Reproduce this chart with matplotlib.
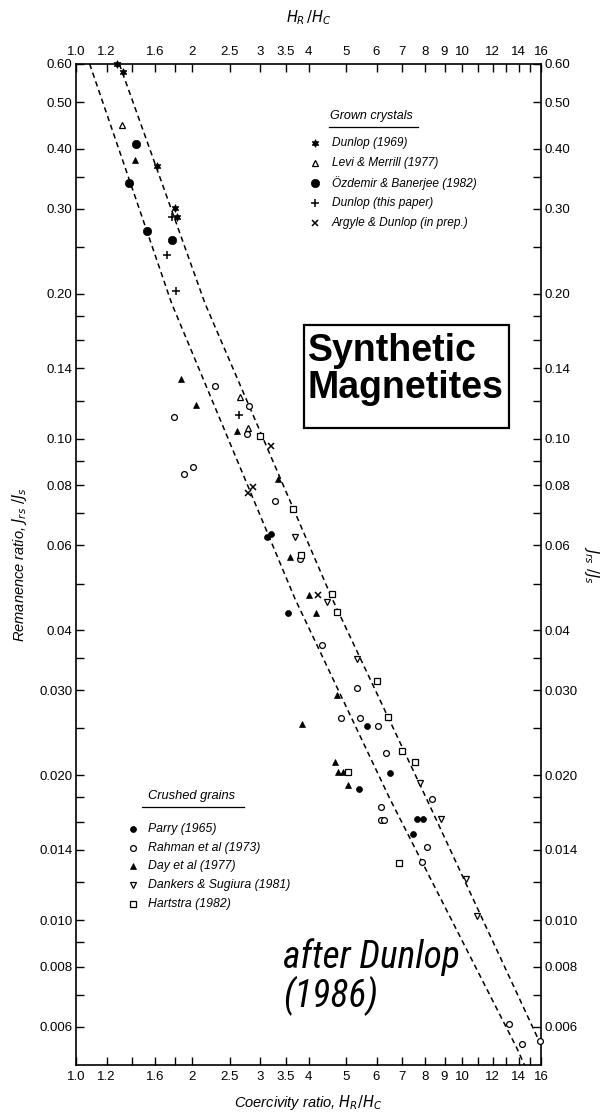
import matplotlib
matplotlib.use("Agg")
import matplotlib.pyplot as plt
from matplotlib import font_manager
from matplotlib.ticker import FixedLocator, FixedFormatter, NullLocator
from matplotlib.patches import Rectangle
from matplotlib.lines import Line2D

plt.rcParams["font.family"] = ["Liberation Sans", "DejaVu Sans"]
plt.rcParams["mathtext.fontset"] = "dejavusans"
plt.rcParams["mathtext.default"] = "it"

# ---------------- data ----------------
# Grown crystals
dunlop1969_x = [1.275, 1.32, 1.618, 1.804, 1.823]
dunlop1969_y = [0.600, 0.578, 0.368, 0.302, 0.288]
levi_x = [1.313, 2.66, 2.79]
levi_y = [0.448, 0.122, 0.1052]
ozdemir_x = [1.43, 1.374, 1.53, 1.77]
ozdemir_y = [0.409, 0.340, 0.270, 0.259]
dunlop_this_x = [1.77, 1.718, 1.812, 2.65]
dunlop_this_y = [0.288, 0.2405, 0.2027, 0.1122]
argyle_x = [3.19, 2.868, 2.785, 4.24]
argyle_y = [0.0964, 0.0793, 0.0771, 0.0474]

# Crushed grains
parry_x = [3.117, 3.19, 3.53, 5.68, 6.50, 5.40, 7.62, 7.90, 7.44]
parry_y = [0.0624, 0.0635, 0.0434, 0.02527, 0.02017, 0.01873, 0.0162, 0.0162, 0.0151]
rahman_x = [2.29, 1.794, 2.805, 2.78, 1.904, 2.005, 3.276, 3.80, 4.33, 5.33, 4.86,
            5.44, 6.04, 6.35, 8.34, 6.15, 6.15, 6.29, 8.09, 7.86, 13.24, 14.26, 15.9]
rahman_y = [0.1285, 0.1109, 0.1167, 0.1024, 0.0846, 0.0873, 0.0742, 0.0561, 0.0372,
            0.0304, 0.0263, 0.0263, 0.0253, 0.02224, 0.01785, 0.0172, 0.01614,
            0.01614, 0.01416, 0.01318, 0.00608, 0.00554, 0.0056]
day_x = [1.425, 1.867, 2.04, 2.617, 3.34, 3.58, 4.02, 4.18, 4.75, 3.855, 4.69,
         4.78, 4.91, 5.05]
day_y = [0.379, 0.1333, 0.1173, 0.1037, 0.0826, 0.0567, 0.0474, 0.0434, 0.0293,
         0.0255, 0.02127, 0.02027, 0.02027, 0.0191]
dankers_x = [3.69, 4.46, 5.33, 7.78, 8.80, 10.23, 10.94]
dankers_y = [0.0624, 0.0457, 0.0349, 0.01923, 0.0162, 0.01217, 0.01021]
hartstra_x = [2.995, 3.653, 3.82, 4.59, 4.75, 6.01, 6.44, 6.97, 7.55, 5.07, 6.87]
hartstra_y = [0.1011, 0.0715, 0.0572, 0.0476, 0.0436, 0.03133, 0.0264, 0.0224,
              0.02127, 0.02027, 0.01312]

# Bounding curves
lower_curve_x = [1.085, 1.769, 3.69, 6.50, 13.84, 14.5]
lower_curve_y = [0.600, 0.1909, 0.0465, 0.01785, 0.00543, 0.0050]
upper_curve_x = [1.295, 2.158, 4.59, 8.09, 16.0]
upper_curve_y = [0.600, 0.1909, 0.0468, 0.01785, 0.0055]

# Axis ticks
x_ticks = [1.0, 1.2, 1.4, 1.6, 1.8, 2, 2.5, 3, 3.5, 4, 5, 6, 7, 8, 9, 10, 11, 12,
           13, 14, 15, 16]
x_labels = ["1.0", "1.2", "", "1.6", "", "2", "2.5", "3", "3.5", "4", "5", "6",
            "7", "8", "9", "10", "", "12", "", "14", "", "16"]
y_ticks = [0.6, 0.5, 0.4, 0.35, 0.3, 0.25, 0.2, 0.18, 0.16, 0.14, 0.12, 0.10,
           0.09, 0.08, 0.07, 0.06, 0.05, 0.04, 0.035, 0.03, 0.025, 0.02, 0.018,
           0.016, 0.014, 0.012, 0.010, 0.009, 0.008, 0.007, 0.006]
y_labels = ["0.60", "0.50", "0.40", "", "0.30", "", "0.20", "", "", "0.14", "",
            "0.10", "", "0.08", "", "0.06", "", "0.04", "", "0.030", "", "0.020",
            "", "", "0.014", "", "0.010", "", "0.008", "", "0.006"]

grown_labels = ["Dunlop (1969)", "Levi & Merrill (1977)", "Özdemir & Banerjee (1982)",
                "Dunlop (this paper)", "Argyle & Dunlop (in prep.)"]
crushed_labels = ["Parry (1965)", "Rahman et al (1973)", "Day et al (1977)",
                  "Dankers & Sugiura (1981)", "Hartstra (1982)"]

# ---------------- figure ----------------
W, H = 605, 1118
fig = plt.figure(figsize=(W / 100, H / 100), dpi=100)
L, R, T, B = 76, 541, 64, 1065
ax = fig.add_axes([L / W, 1 - B / H, (R - L) / W, (B - T) / H])


def fx(px):
    return px / W


def fy(py):
    return 1 - py / H


ax.set_xscale("log")
ax.set_yscale("log")
ax.set_xlim(1.0, 16.0)
ax.set_ylim(0.005, 0.6)

for s in ax.spines.values():
    s.set_linewidth(1.2)

ax.xaxis.set_major_locator(FixedLocator(x_ticks))
ax.xaxis.set_major_formatter(FixedFormatter(x_labels))
ax.xaxis.set_minor_locator(NullLocator())
ax.yaxis.set_major_locator(FixedLocator(y_ticks))
ax.yaxis.set_major_formatter(FixedFormatter(y_labels))
ax.yaxis.set_minor_locator(NullLocator())
ax.tick_params(axis="both", which="major", direction="in", length=6, width=1.0,
               labelsize=9.5, top=True, right=True)
ax.tick_params(axis="x", labeltop=True, labelbottom=True, pad=4)
ax.tick_params(axis="y", labelleft=True, labelright=True, pad=2.5)

dash = (0, (3.5, 2.5))
ax.plot(lower_curve_x, lower_curve_y, color="k", lw=1.1, linestyle=dash)
ax.plot(upper_curve_x, upper_curve_y, color="k", lw=1.1, linestyle=dash)

styles = {
    "dunlop1969": dict(marker=(6, 1, 0), ms=5.5, mfc="k", mec="k", mew=0.6),
    "levi": dict(marker="^", ms=4.5, mfc="white", mec="k", mew=0.9),
    "ozdemir": dict(marker="o", ms=6, mfc="k", mec="k", mew=0.5),
    "dunlop_this": dict(marker="+", ms=5.5, mfc="k", mec="k", mew=1.1),
    "argyle": dict(marker="x", ms=4.5, mfc="k", mec="k", mew=1.1),
    "parry": dict(marker="o", ms=4.3, mfc="k", mec="k", mew=0.5),
    "rahman": dict(marker="o", ms=4.2, mfc="white", mec="k", mew=0.9),
    "day": dict(marker="^", ms=5, mfc="k", mec="k", mew=0.5),
    "dankers": dict(marker="v", ms=5, mfc="white", mec="k", mew=0.9),
    "hartstra": dict(marker="s", ms=4.3, mfc="white", mec="k", mew=0.9),
}

series = [
    ("dunlop1969", dunlop1969_x, dunlop1969_y),
    ("levi", levi_x, levi_y),
    ("ozdemir", ozdemir_x, ozdemir_y),
    ("dunlop_this", dunlop_this_x, dunlop_this_y),
    ("argyle", argyle_x, argyle_y),
    ("parry", parry_x, parry_y),
    ("rahman", rahman_x, rahman_y),
    ("day", day_x, day_y),
    ("dankers", dankers_x, dankers_y),
    ("hartstra", hartstra_x, hartstra_y),
]
for key, xs, ys in series:
    ax.plot(xs, ys, linestyle="none", clip_on=False, zorder=3, **styles[key])

# ---------------- axis titles ----------------
fig.text(fx((L + R) / 2), fy(18), r"$H_R\,/H_C$", ha="center", va="center",
         fontsize=10.5)
fig.text(fx((L + R) / 2), fy(1103), r"Coercivity ratio, $H_R/H_C$", ha="center",
         va="center", fontsize=10.5, style="italic")
fig.text(fx(20), fy((T + B) / 2), r"Remanence ratio, $J_{rs}\ /J_s$", ha="center",
         va="center", rotation=90, fontsize=10.5, style="italic")
fig.text(fx(592), fy((T + B) / 2), r"$J_{rs}\ /J_s$", ha="center", va="center",
         rotation=-90, fontsize=10.5)

# ---------------- legends ----------------
def legend_block(title, title_xy, line_x, line_y, mark_x, text_x, rows_y, keys,
                 labels, size, title_size):
    fig.text(fx(title_xy[0]), fy(title_xy[1]), title, ha="left", va="center",
             fontsize=title_size, style="italic")
    fig.add_artist(Line2D([fx(line_x[0]), fx(line_x[1])], [fy(line_y), fy(line_y)],
                          transform=fig.transFigure, color="k", lw=0.9))
    for key, lab, ry in zip(keys, labels, rows_y):
        fig.add_artist(Line2D([fx(mark_x)], [fy(ry)], transform=fig.transFigure,
                              linestyle="none", **styles[key]))
        fig.text(fx(text_x), fy(ry), lab, ha="left", va="center", fontsize=size,
                 style="italic")


legend_block("Grown crystals", (330, 116), (329, 418), 127, 315, 332,
             [143, 163, 183, 203, 223],
             ["dunlop1969", "levi", "ozdemir", "dunlop_this", "argyle"],
             grown_labels, 8.6, 9.0)
legend_block("Crushed grains", (148, 796), (142, 244), 807, 133, 148,
             [829, 848, 866, 885, 904],
             ["parry", "rahman", "day", "dankers", "hartstra"],
             crushed_labels, 8.8, 9.3)

# ---------------- annotations ----------------
fig.add_artist(Rectangle((fx(304), fy(428)), fx(509) - fx(304), fy(325) - fy(428),
                         transform=fig.transFigure, fill=False, edgecolor="k",
                         lw=1.6, zorder=5))
fig.text(fx(308), fy(333), "Synthetic\nMagnetites", ha="left", va="top",
         fontsize=27, fontweight="bold", linespacing=1.02, zorder=6)

# Narrow italic face for the source note, if one is installed
installed = {f.name for f in font_manager.fontManager.ttflist}
narrow = None
for cand in ["Liberation Sans Narrow", "Arial Narrow", "Roboto Condensed",
             "Noto Sans Condensed", "Open Sans Condensed", "DejaVu Sans Condensed"]:
    if cand in installed:
        narrow = cand
        break
note_kw = dict(ha="left", va="center", style="italic", linespacing=1.0)
if narrow is not None:
    note = fig.text(fx(283), fy(977), "after Dunlop\n(1986)", fontsize=27,
                    family=[narrow, "Liberation Sans"], **note_kw)
else:
    note = fig.text(fx(283), fy(977), "after Dunlop\n(1986)", fontsize=27,
                    family=["DejaVu Sans"], fontstretch="condensed", **note_kw)
    # keep the line width close to the narrow lettering
    fig.canvas.draw()
    w = note.get_window_extent().width
    target = 174.0
    if w > target * 1.05:
        note.set_fontsize(27 * target / w)

fig.savefig("out.png", dpi=100)
